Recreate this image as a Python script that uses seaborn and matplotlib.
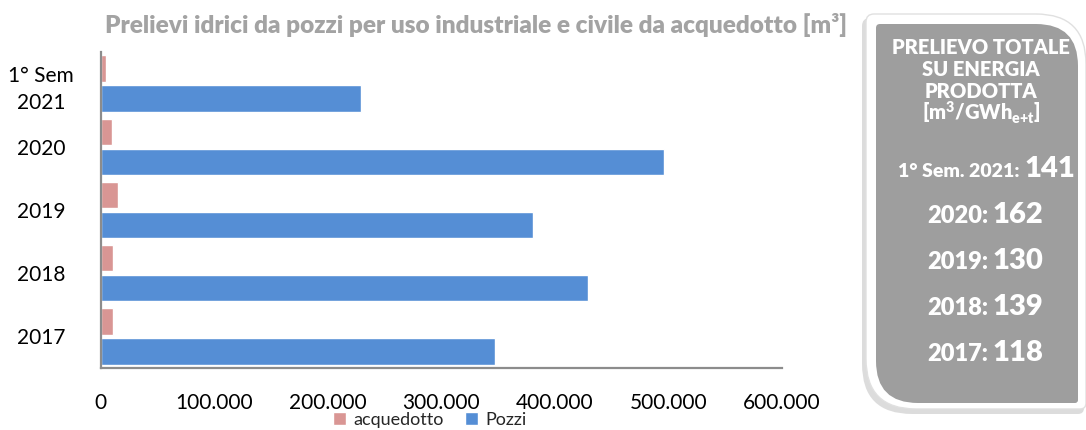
import numpy as np
import pandas as pd
import matplotlib
matplotlib.use("Agg")
import matplotlib.pyplot as plt
import seaborn as sns
from matplotlib.path import Path
from matplotlib.patches import PathPatch
from matplotlib.ticker import FuncFormatter

# Data
periodi = ['1° Sem\n2021', '2020', '2019', '2018', '2017']
pozzi = [229000, 496000, 380500, 429000, 347300]
acquedotto = [5000, 9700, 15000, 11400, 10800]

box_labels = ['1° Sem. 2021:', '2020:', '2019:', '2018:', '2017:']
box_values = ['141', '162', '130', '139', '118']

sns.set_style('white')
plt.rcParams['font.family'] = ['Lato', 'DejaVu Sans']
plt.rcParams['mathtext.fontset'] = 'custom'
plt.rcParams['mathtext.rm'] = 'Lato:heavy'

df = pd.DataFrame({
    'periodo': periodi * 2,
    'valore': acquedotto + pozzi,
    'fonte': ['acquedotto'] * len(periodi) + ['Pozzi'] * len(periodi),
})

fig = plt.figure(figsize=(10.86, 4.30), dpi=100)
ax = fig.add_axes([100.5 / 1086, 62 / 430, 681.5 / 1086, 316 / 430])

sns.barplot(data=df, y='periodo', x='valore', hue='fonte', order=periodi,
            hue_order=['acquedotto', 'Pozzi'],
            palette={'acquedotto': '#D99694', 'Pozzi': '#558ED5'},
            orient='h', width=0.95, gap=0.12, saturation=1, ax=ax)

ax.set_xlim(0, 600000)
ax.set_xticks(np.arange(0, 600001, 100000))
ax.xaxis.set_major_formatter(FuncFormatter(lambda v, p: f'{int(v):,}'.replace(',', '.')))
ax.set_xlabel('')
ax.set_ylabel('')
for s in ['top', 'right']:
    ax.spines[s].set_visible(False)
for s in ['left', 'bottom']:
    ax.spines[s].set_color('#8C8C8C')
    ax.spines[s].set_linewidth(1.6)
ax.tick_params(axis='x', length=8, width=1.6, color='#8C8C8C', direction='out',
               labelsize=15, pad=10, labelcolor='black')
ax.tick_params(axis='y', length=0, labelsize=15, pad=6, labelcolor='black')
for lbl in ax.get_yticklabels():
    lbl.set_horizontalalignment('center')
    lbl.set_x(-0.075)
    lbl.set_linespacing(1.45)

handles, labels = ax.get_legend_handles_labels()
ax.legend(handles, labels, loc='center', bbox_to_anchor=(430 / 1086, 1 - 420 / 430),
          bbox_transform=fig.transFigure, ncol=2, frameon=False, fontsize=13,
          handlelength=0.7, handleheight=0.7, handletextpad=0.4, columnspacing=1.2,
          borderpad=0)

fig.text(476 / 1086, 1 - 25 / 430,
         'Prelievi idrici da pozzi per uso industriale e civile da acquedotto [m³]',
         ha='center', va='center', fontsize=17.6, fontweight='heavy', color='#A3A3A3')

# Overlay axes for the side box, in pixel coordinates
ov = fig.add_axes([0, 0, 1, 1], zorder=5)
ov.set_xlim(0, 1086)
ov.set_ylim(430, 0)
ov.axis('off')


def box_path(x0, y0, x1, y1, rtl, rtr, rbr, rbl):
    verts = [(x0 + rtl, y0), (x1 - rtr, y0), (x1, y0), (x1, y0 + rtr),
             (x1, y1 - rbr), (x1, y1), (x1 - rbr, y1),
             (x0 + rbl, y1), (x0, y1), (x0, y1 - rbl),
             (x0, y0 + rtl), (x0, y0), (x0 + rtl, y0), (x0 + rtl, y0)]
    codes = [Path.MOVETO, Path.LINETO, Path.CURVE3, Path.CURVE3,
             Path.LINETO, Path.CURVE3, Path.CURVE3,
             Path.LINETO, Path.CURVE3, Path.CURVE3,
             Path.LINETO, Path.CURVE3, Path.CURVE3, Path.CLOSEPOLY]
    return Path(verts, codes)


ov.add_patch(PathPatch(box_path(862, 18, 1084, 414, 8, 50, 6, 50),
                       facecolor='#D4D4D4', edgecolor='none', alpha=0.8))
ov.add_patch(PathPatch(box_path(866, 14, 1086, 409, 8, 50, 6, 50),
                       facecolor='white', edgecolor='#E0E0E0', linewidth=1))
ov.add_patch(PathPatch(box_path(876, 24, 1078, 403, 4, 42, 3, 42),
                       facecolor='#9E9E9E', edgecolor='none'))

cx = 981
header = ['PRELIEVO TOTALE', 'SU ENERGIA', 'PRODOTTA']
for i, h in enumerate(header):
    ov.text(cx, 47 + i * 22, h, ha='center', va='center', color='white',
            fontsize=14.5, fontweight='heavy')
ov.text(cx, 113, r'[m$^{\mathrm{3}}$/GWh$_{\mathrm{e{+}t}}$]', ha='center', va='center',
        color='white', fontsize=14.5, fontweight='heavy')

for i, (lab, val) in enumerate(zip(box_labels, box_values)):
    yb = 177 + i * 46
    split = 1020 if i == 0 else 988
    ov.text(split, yb, lab, ha='right', va='baseline', color='white',
            fontsize=14 if i == 0 else 17, fontweight='heavy')
    ov.text(split + 4, yb, val, ha='left', va='baseline', color='white',
            fontsize=21, fontweight='heavy')

fig.savefig('out.png', dpi=100)
